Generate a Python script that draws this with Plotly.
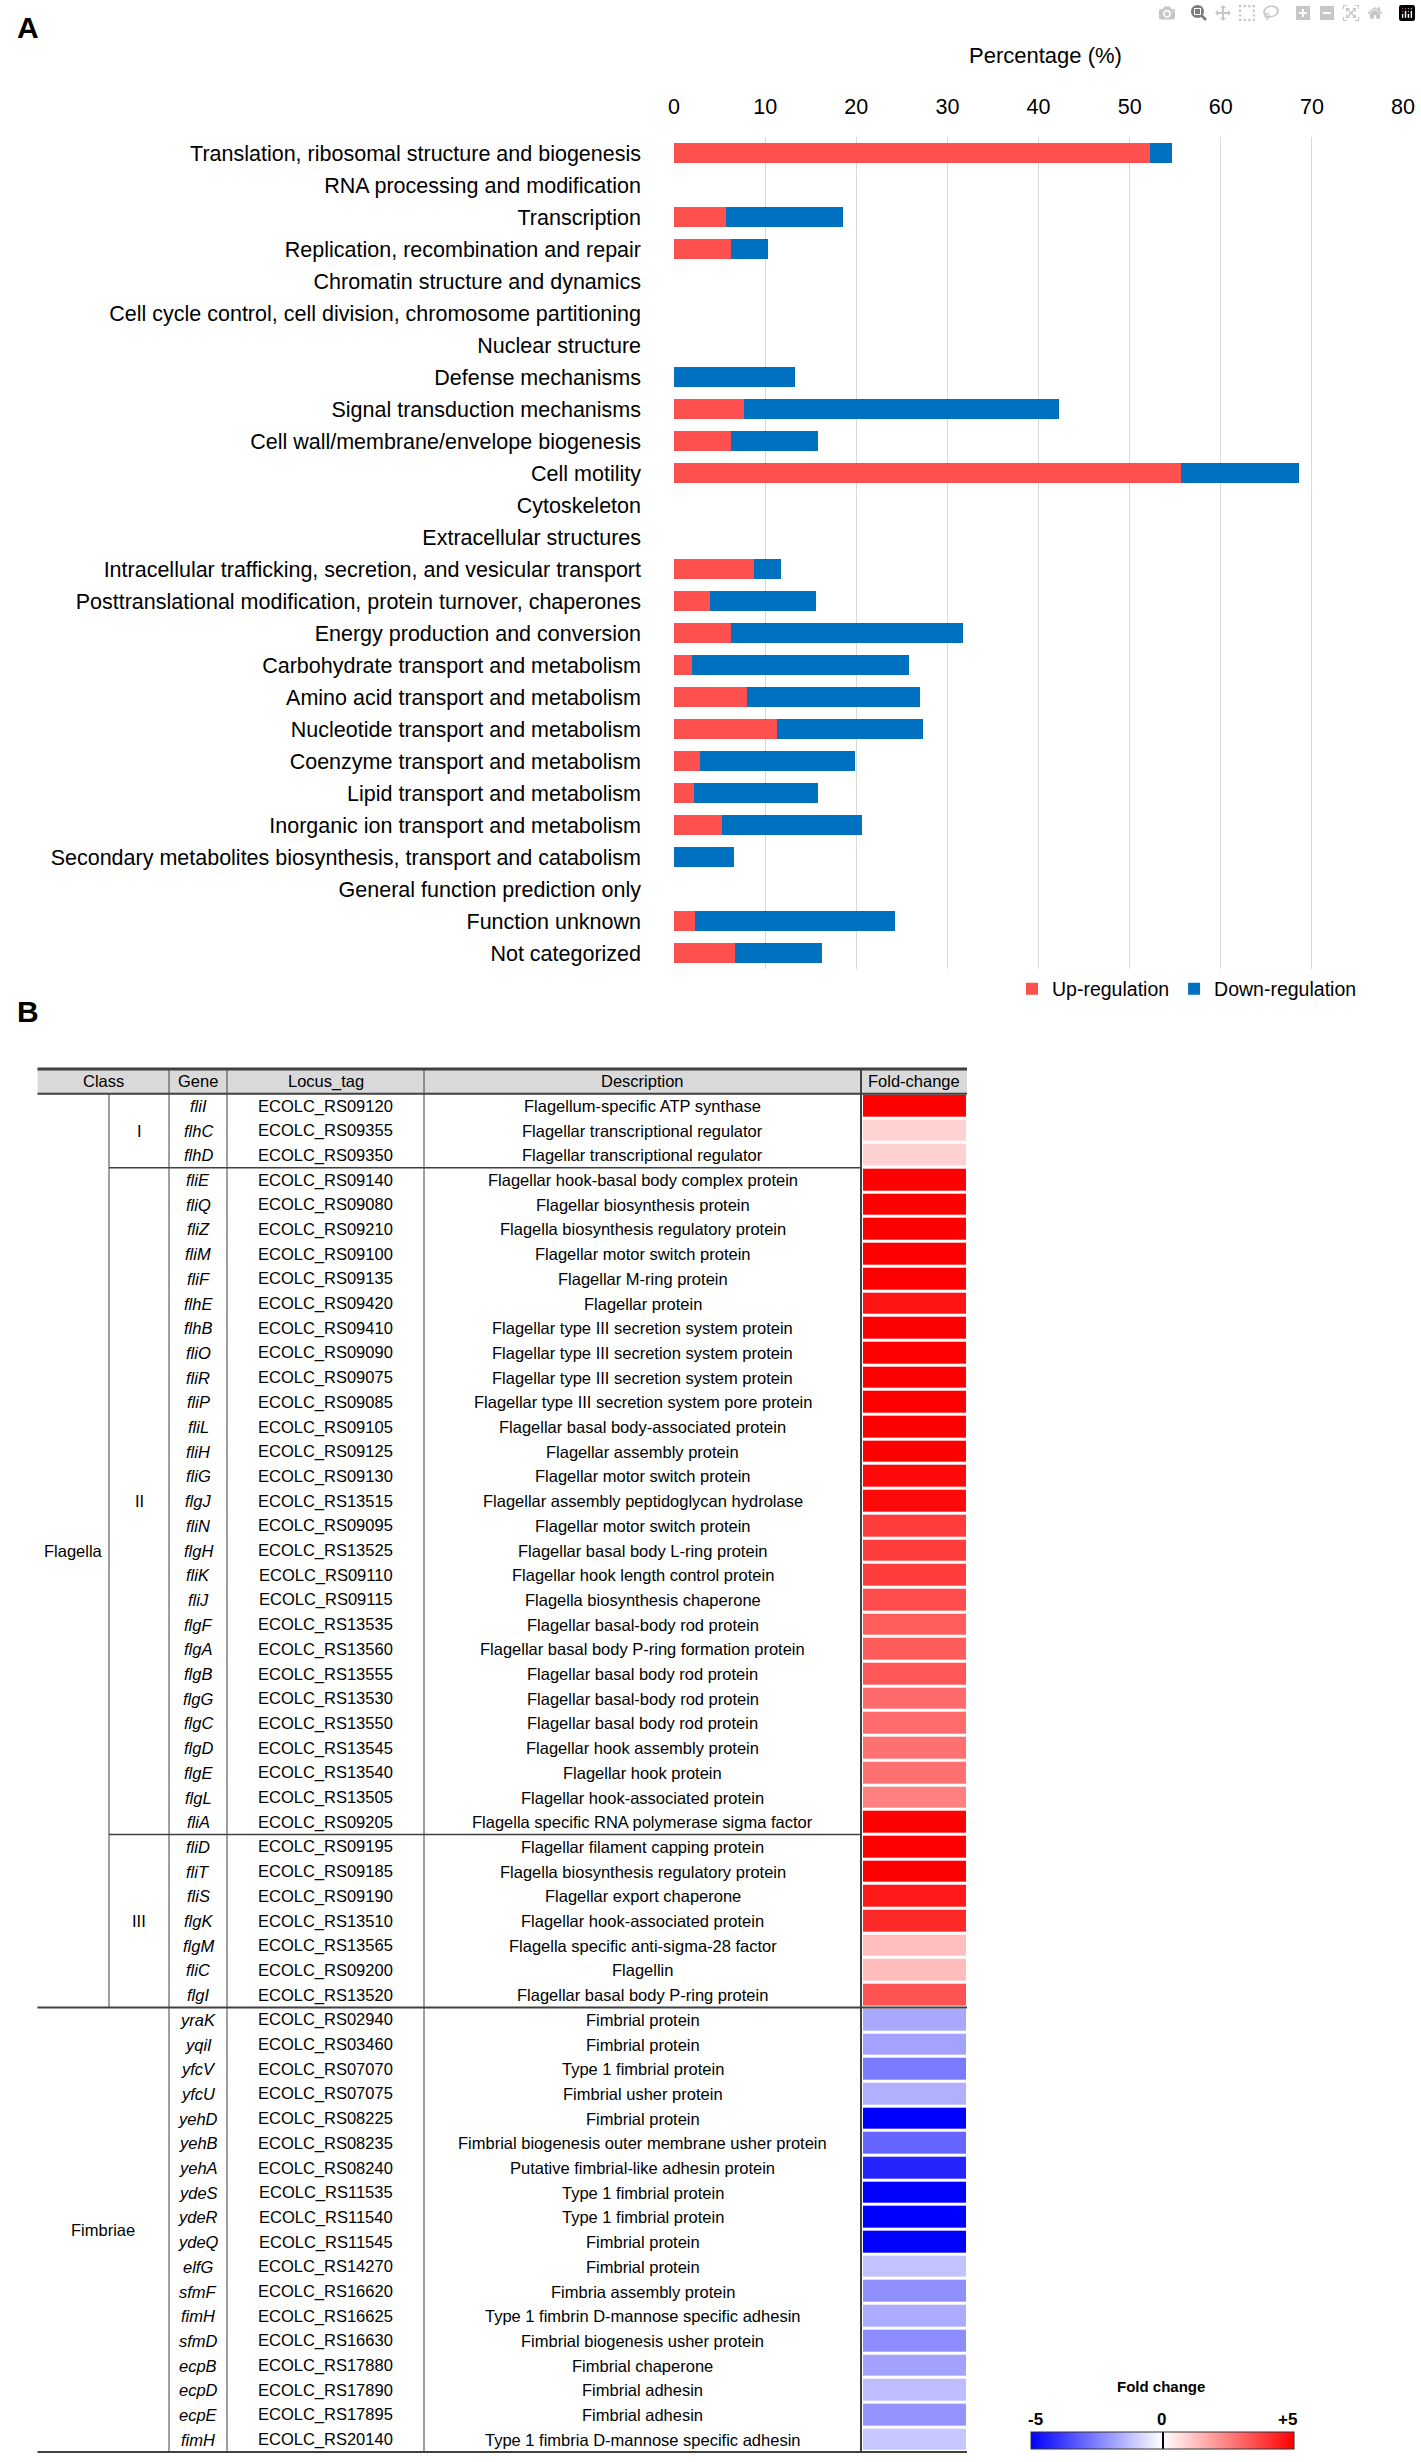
import plotly.graph_objects as go

W, H = 1421, 2462


def fx(p):
    return p / W


def fy(p):
    return 1 - p / H


FONT = "Liberation Sans, Arial, sans-serif"

# ---------------- Panel A data ----------------
categories = [
    "Translation, ribosomal structure and biogenesis",
    "RNA processing and modification",
    "Transcription",
    "Replication, recombination and repair",
    "Chromatin structure and dynamics",
    "Cell cycle control, cell division, chromosome partitioning",
    "Nuclear structure",
    "Defense mechanisms",
    "Signal transduction mechanisms",
    "Cell wall/membrane/envelope biogenesis",
    "Cell motility",
    "Cytoskeleton",
    "Extracellular structures",
    "Intracellular trafficking, secretion, and vesicular transport",
    "Posttranslational modification, protein turnover, chaperones",
    "Energy production and conversion",
    "Carbohydrate transport and metabolism",
    "Amino acid transport and metabolism",
    "Nucleotide transport and metabolism",
    "Coenzyme transport and metabolism",
    "Lipid transport and metabolism",
    "Inorganic ion transport and metabolism",
    "Secondary metabolites biosynthesis, transport and catabolism",
    "General function prediction only",
    "Function unknown",
    "Not categorized",
]
up_pct = [52.2, 0, 5.7, 6.2, 0, 0, 0, 0, 7.7, 6.3, 55.6, 0, 0, 8.8, 3.9, 6.3,
          2.0, 8.0, 11.3, 2.8, 2.2, 5.3, 0, 0, 2.3, 6.7]
down_pct = [2.4, 0, 12.8, 4.1, 0, 0, 0, 13.3, 34.6, 9.5, 13.0, 0, 0, 2.9, 11.7, 25.4,
            23.8, 19.0, 16.0, 17.1, 13.6, 15.3, 6.6, 0, 21.9, 9.5]
x_ticks = [0, 10, 20, 30, 40, 50, 60, 70, 80]

# ---------------- Panel B data ----------------
genes = ["fliI", "flhC", "flhD",
         "fliE", "fliQ", "fliZ", "fliM", "fliF", "flhE", "flhB", "fliO", "fliR", "fliP",
         "fliL", "fliH", "fliG", "flgJ", "fliN", "flgH", "fliK", "fliJ", "flgF", "flgA",
         "flgB", "flgG", "flgC", "flgD", "flgE", "flgL", "fliA",
         "fliD", "fliT", "fliS", "flgK", "flgM", "fliC", "flgI",
         "yraK", "yqiI", "yfcV", "yfcU", "yehD", "yehB", "yehA", "ydeS", "ydeR", "ydeQ",
         "elfG", "sfmF", "fimH", "sfmD", "ecpB", "ecpD", "ecpE", "fimH"]
locus_tags = ["ECOLC_RS09120", "ECOLC_RS09355", "ECOLC_RS09350",
              "ECOLC_RS09140", "ECOLC_RS09080", "ECOLC_RS09210", "ECOLC_RS09100",
              "ECOLC_RS09135", "ECOLC_RS09420", "ECOLC_RS09410", "ECOLC_RS09090",
              "ECOLC_RS09075", "ECOLC_RS09085", "ECOLC_RS09105", "ECOLC_RS09125",
              "ECOLC_RS09130", "ECOLC_RS13515", "ECOLC_RS09095", "ECOLC_RS13525",
              "ECOLC_RS09110", "ECOLC_RS09115", "ECOLC_RS13535", "ECOLC_RS13560",
              "ECOLC_RS13555", "ECOLC_RS13530", "ECOLC_RS13550", "ECOLC_RS13545",
              "ECOLC_RS13540", "ECOLC_RS13505", "ECOLC_RS09205",
              "ECOLC_RS09195", "ECOLC_RS09185", "ECOLC_RS09190", "ECOLC_RS13510",
              "ECOLC_RS13565", "ECOLC_RS09200", "ECOLC_RS13520",
              "ECOLC_RS02940", "ECOLC_RS03460", "ECOLC_RS07070", "ECOLC_RS07075",
              "ECOLC_RS08225", "ECOLC_RS08235", "ECOLC_RS08240", "ECOLC_RS11535",
              "ECOLC_RS11540", "ECOLC_RS11545", "ECOLC_RS14270", "ECOLC_RS16620",
              "ECOLC_RS16625", "ECOLC_RS16630", "ECOLC_RS17880", "ECOLC_RS17890",
              "ECOLC_RS17895", "ECOLC_RS20140"]
descriptions = [
    "Flagellum-specific ATP synthase",
    "Flagellar transcriptional regulator",
    "Flagellar transcriptional regulator",
    "Flagellar hook-basal body complex protein",
    "Flagellar biosynthesis protein",
    "Flagella biosynthesis regulatory protein",
    "Flagellar motor switch protein",
    "Flagellar M-ring protein",
    "Flagellar protein",
    "Flagellar type III secretion system protein",
    "Flagellar type III secretion system protein",
    "Flagellar type III secretion system protein",
    "Flagellar type III secretion system pore protein",
    "Flagellar basal body-associated protein",
    "Flagellar assembly protein",
    "Flagellar motor switch protein",
    "Flagellar assembly peptidoglycan hydrolase",
    "Flagellar motor switch protein",
    "Flagellar basal body L-ring protein",
    "Flagellar hook length control protein",
    "Flagella biosynthesis chaperone",
    "Flagellar basal-body rod protein",
    "Flagellar basal body P-ring formation protein",
    "Flagellar basal body rod protein",
    "Flagellar basal-body rod protein",
    "Flagellar basal body rod protein",
    "Flagellar hook assembly protein",
    "Flagellar hook protein",
    "Flagellar hook-associated protein",
    "Flagella specific RNA polymerase sigma factor",
    "Flagellar filament capping protein",
    "Flagella biosynthesis regulatory protein",
    "Flagellar export chaperone",
    "Flagellar hook-associated protein",
    "Flagella specific anti-sigma-28 factor",
    "Flagellin",
    "Flagellar basal body P-ring protein",
    "Fimbrial protein",
    "Fimbrial protein",
    "Type 1 fimbrial protein",
    "Fimbrial usher protein",
    "Fimbrial protein",
    "Fimbrial biogenesis outer membrane usher protein",
    "Putative fimbrial-like adhesin protein",
    "Type 1 fimbrial protein",
    "Type 1 fimbrial protein",
    "Fimbrial protein",
    "Fimbrial protein",
    "Fimbria assembly protein",
    "Type 1 fimbrin D-mannose specific adhesin",
    "Fimbrial biogenesis usher protein",
    "Fimbrial chaperone",
    "Fimbrial adhesin",
    "Fimbrial adhesin",
    "Type 1 fimbria D-mannose specific adhesin",
]
fold_change = [5, 0.9, 0.9,
               5, 5, 5, 5, 5, 4.6, 5, 5, 5, 5, 5, 5, 4.8, 4.8, 3.8, 3.8, 3.8, 3.5, 3.2,
               3.2, 3.3, 2.9, 2.9, 2.8, 2.8, 2.5, 5,
               5, 5, 4.5, 4.2, 1.3, 1.3, 3.4,
               -1.7, -1.8, -2.6, -1.55, -5, -3.0, -4.3, -5, -5, -5, -1.2, -2.2, -1.65,
               -2.25, -1.8, -1.3, -2.1, -1.1]
class_groups = [("Flagella", 0, 36), ("Fimbriae", 37, 54)]
subclass_groups = [("I", 0, 2), ("II", 3, 29), ("III", 30, 36)]
headers = ["Class", "Gene", "Locus_tag", "Description", "Fold-change"]
fc_ticks = ["-5", "0", "+5"]

A_SIZE = 21.5
T_SIZE = 16.5

# ---------------- Figure ----------------
fig = go.Figure()
fig.add_trace(go.Bar(orientation="h", y=categories, x=up_pct, name="Up-regulation",
                     marker=dict(color="#FF5050", line=dict(width=0)), width=0.6,
                     xaxis="x", yaxis="y"))
fig.add_trace(go.Bar(orientation="h", y=categories, x=down_pct, name="Down-regulation",
                     marker=dict(color="#0070C0", line=dict(width=0)), width=0.6,
                     xaxis="x", yaxis="y"))

fig.add_trace(go.Heatmap(
    z=[[v] for v in fold_change], x=[0], y=list(range(len(fold_change))),
    xaxis="x2", yaxis="y2", zmin=-5, zmax=5, ygap=3, showlegend=False,
    colorscale=[[0, "#0000FF"], [0.5, "#FFFFFF"], [1, "#FF0000"]],
    colorbar=dict(orientation="h", x=1162.5 / W, xanchor="center",
                  y=fy(2432), yanchor="top", len=263, lenmode="pixels",
                  thickness=17, thicknessmode="pixels", outlinewidth=1,
                  outlinecolor="#333333", tickvals=[0], ticks="inside", ticklen=17,
                  tickcolor="#000000", tickwidth=1.5, showticklabels=False,
                  xpad=0, ypad=0),
))

fig.update_layout(
    width=W, height=H, margin=dict(l=0, r=0, t=0, b=0, autoexpand=False),
    paper_bgcolor="white", plot_bgcolor="white",
    barmode="stack", bargap=0.4,
    font=dict(family=FONT, color="#000000", size=T_SIZE),
    showlegend=True,
    legend=dict(orientation="h", x=fx(1362), xanchor="right", y=fy(989),
                yanchor="middle", font=dict(family=FONT, size=19.5),
                bgcolor="rgba(0,0,0,0)", itemwidth=30, traceorder="normal"),
    xaxis=dict(domain=[fx(674), fx(1403)], range=[0, 80], side="top", anchor="y",
               tickvals=x_ticks, showgrid=True, gridcolor="#D9D9D9", gridwidth=1,
               zeroline=False, showline=False, ticks="", ticklabelstandoff=18,
               automargin=False, tickfont=dict(family=FONT, size=A_SIZE)),
    yaxis=dict(domain=[fy(969), fy(137)], type="category", range=[25.5, -0.5],
               categoryorder="array", categoryarray=categories, anchor="x",
               showgrid=False, zeroline=False, showline=False, ticks="",
               ticklabelstandoff=32, automargin=False,
               tickfont=dict(family=FONT, size=A_SIZE)),
    xaxis2=dict(domain=[fx(863), fx(966)], range=[-0.5, 0.5], visible=False,
                anchor="y2", automargin=False),
    yaxis2=dict(domain=[fy(2454.5), fy(1066.5)], range=[54.6, -1.6], visible=False,
                anchor="x2", automargin=False),
)

ann = []


def label(text, x, y, yref="paper", size=T_SIZE):
    ann.append(dict(text=text, x=x, y=y, xref="paper", yref=yref, showarrow=False,
                    xanchor="center", yanchor="middle",
                    font=dict(family=FONT, size=size)))


# Panel labels and titles
label("<b>A</b>", fx(28), fy(28), size=30)
label("<b>B</b>", fx(28), fy(1012), size=30)
label("Percentage (%)", fx(1045), fy(55), size=22)

# Table header
header_x = [103, 198, 325.5, 642.5, 914]
for h, xc in zip(headers, header_x):
    label(h, fx(xc), -1, yref="y2")

# Table body
for i in range(len(genes)):
    label("<i>%s</i>" % genes[i], fx(198), i, yref="y2")
    label(locus_tags[i], fx(325.5), i, yref="y2")
    label(descriptions[i], fx(642.5), i, yref="y2")

class_x = {"Flagella": 73, "Fimbriae": 103}
for name, a, b in class_groups:
    label(name, fx(class_x[name]), (a + b) / 2, yref="y2")
for name, a, b in subclass_groups:
    label(name, fx(139), (a + b) / 2, yref="y2")

# Colorbar labels
label("<b>Fold change</b>", fx(1161), fy(2386), size=15)
for t, xc in zip(fc_ticks, [1035, 1161, 1287]):
    label("<b>%s</b>" % t, fx(xc), fy(2419), size=17)

fig.update_layout(annotations=ann)

shapes = []
LINE = "#404040"


def hline(y, x0, x1, w):
    shapes.append(dict(type="line", xref="paper", yref="y2", x0=fx(x0), x1=fx(x1),
                       y0=y, y1=y, line=dict(color=LINE, width=w)))


def vline(x, y0, y1, w):
    shapes.append(dict(type="line", xref="paper", yref="y2", x0=fx(x), x1=fx(x),
                       y0=y0, y1=y1, line=dict(color=LINE, width=w)))


n = len(genes)
shapes.append(dict(type="rect", xref="paper", yref="y2", x0=fx(37.5), x1=fx(967),
                   y0=-1.5, y1=-0.5, fillcolor="#D9D9D9", line=dict(width=0),
                   layer="below"))
hline(-1.5, 37.5, 967, 3)
hline(-0.5, 37.5, 967, 2)
hline(2.5, 109, 861, 1.5)
hline(29.5, 109, 861, 1.5)
hline(36.5, 37.5, 967, 2)
hline(n - 0.5, 37.5, 967, 2)
vline(109, -0.5, 36.5, 1)
for xc in [169, 227, 424]:
    vline(xc, -1.5, n - 0.5, 1)
vline(861, -1.5, n - 0.5, 2)
fig.update_layout(shapes=shapes)

fig.write_html("out.html", post_script="document.body.style.margin='0';")
